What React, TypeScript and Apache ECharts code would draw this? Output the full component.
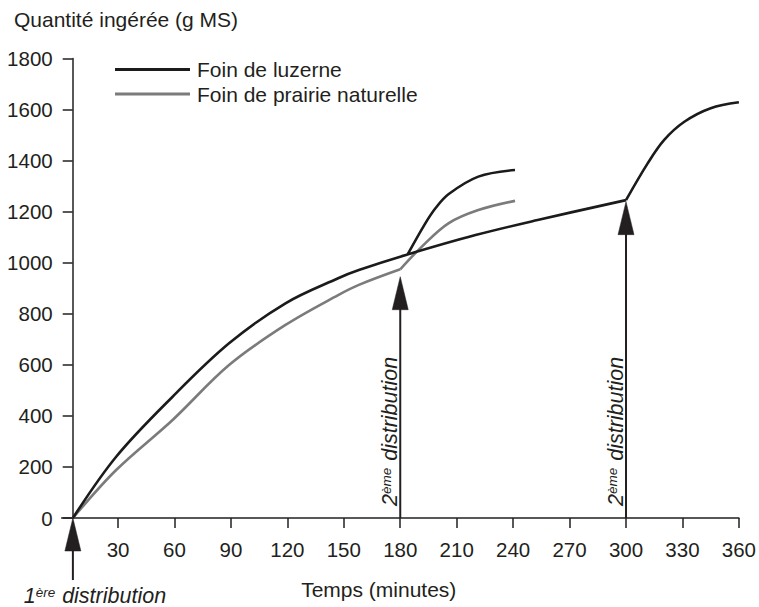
import React, { useEffect, useRef } from "react";
import * as echarts from "echarts";

// ---- data (minutes, g MS) ----
const luzerneMainT = [6, 29, 59, 89, 119, 147, 158, 183, 220, 253, 300];
const luzerneMainV = [0, 240, 475, 684, 841, 939, 971, 1030, 1108, 1167, 1245];
const luzerne2T = [184, 193, 198.6, 205.6, 221.5, 241];
const luzerne2V = [1033, 1150, 1212, 1268, 1337, 1363];
const luzerne3T = [300, 311.5, 320.3, 331, 345, 360];
const luzerne3V = [1245, 1389, 1481, 1552, 1605, 1628];
const prairieMainT = [6, 29, 59, 89, 119, 147, 158, 180];
const prairieMainV = [0, 188, 384, 599, 756, 873, 913, 974];
const prairie2T = [180, 191.5, 205.6, 221.5, 241];
const prairie2V = [974, 1063, 1154, 1206, 1242];

// distributions: time, arrow tip value, arrow tail value
const distT = [6, 180, 300];
const distTip = [0, 945, 1239];
const distTail = [-243, 0, 0];
const distOrd = ["1", "2", "2"];
const distSup = ["ère", "ème", "ème"];

const xTickValues = [30, 60, 90, 120, 150, 180, 210, 240, 270, 300, 330, 360];
const yMin = 0;
const yMax = 1800;
const yStep = 200;

const SERIES_LUZ = "Foin de luzerne";
const SERIES_PRA = "Foin de prairie naturelle";

const FONT = "'Liberation Sans', Arial, Helvetica, sans-serif";
const INK = "#231f20";
const BLACK = "#1c1a1b";
const GREY = "#7b7b7b";

const zip = (t: number[], v: number[]) => t.map((x, i) => [x, v[i]]);

export default function App() {
  const ref = useRef<HTMLDivElement>(null);

  useEffect(() => {
    if (!ref.current) return;
    const chart = echarts.init(ref.current, undefined, { renderer: "svg" });

    const lineSeries = (name: string, data: number[][], color: string, z: number) => ({
      name,
      type: "line",
      data,
      showSymbol: false,
      smooth: 0.35,
      z,
      lineStyle: { color, width: 2.6 },
      itemStyle: { color },
      emphasis: { disabled: true },
    });

    const option: any = {
      animation: false,
      textStyle: { fontFamily: FONT, color: INK },
      title: {
        text: "Quantité ingérée (g MS)",
        left: 14,
        top: 9,
        padding: 0,
        textStyle: { fontSize: 21, fontWeight: "normal", color: INK, fontFamily: FONT },
      },
      legend: {
        data: [SERIES_LUZ, SERIES_PRA],
        orient: "vertical",
        left: 110,
        top: 54,
        itemWidth: 75,
        itemHeight: 3,
        itemGap: 3.5,
        icon: "rect",
        selectedMode: false,
        textStyle: { fontSize: 21, color: INK, fontFamily: FONT, padding: [0, 0, 0, 2] },
      },
      grid: { left: 61.6, right: 17.3, top: 58.4, bottom: 89, containLabel: false },
      xAxis: {
        type: "value",
        min: 0,
        max: 360,
        interval: 30,
        name: "Temps (minutes)",
        nameLocation: "middle",
        nameGap: 61,
        nameTextStyle: { fontSize: 21, color: INK, fontFamily: FONT, padding: [0, 43, 0, 0] },
        axisLine: { show: true, onZero: false, lineStyle: { color: INK, width: 1.5 } },
        axisTick: {
          show: true,
          inside: false,
          length: 10,
          customValues: xTickValues,
          lineStyle: { color: INK, width: 1.5 },
        },
        axisLabel: {
          customValues: xTickValues,
          margin: 21,
          fontSize: 20.5,
          color: INK,
          fontFamily: FONT,
        },
        splitLine: { show: false },
      },
      yAxis: {
        type: "value",
        min: yMin,
        max: yMax,
        interval: yStep,
        offset: -11.1,
        axisLine: { show: true, onZero: false, lineStyle: { color: INK, width: 1.5 } },
        axisTick: { show: true, inside: false, length: 10, lineStyle: { color: INK, width: 1.5 } },
        axisLabel: {
          margin: 20,
          fontSize: 20.5,
          color: INK,
          fontFamily: FONT,
          formatter: (v: number) => String(v),
        },
        splitLine: { show: false },
      },
      series: [
        lineSeries(SERIES_PRA, zip(prairieMainT, prairieMainV), GREY, 2),
        lineSeries(SERIES_PRA, zip(prairie2T, prairie2V), GREY, 2),
        lineSeries(SERIES_LUZ, zip(luzerneMainT, luzerneMainV), BLACK, 3),
        lineSeries(SERIES_LUZ, zip(luzerne2T, luzerne2V), BLACK, 3),
        lineSeries(SERIES_LUZ, zip(luzerne3T, luzerne3V), BLACK, 3),
        {
          name: "distributions",
          type: "custom",
          clip: false,
          z: 5,
          silent: true,
          data: distT.map((t, i) => [t, distTip[i], distTail[i], i]),
          renderItem: (params: any, api: any) => {
            const t = api.value(0);
            const tip = api.coord([t, api.value(1)]);
            const tail = api.coord([t, api.value(2)]);
            const i = api.value(3);
            const headH = 33;
            const headW = 8;
            const rich = {
              n: {
                fontSize: 21.5,
                lineHeight: 22,
                fontStyle: "italic",
                fontFamily: FONT,
                fill: INK,
                color: INK,
              },
              s: {
                fontSize: 13.5,
                lineHeight: 22,
                fontStyle: "italic",
                fontFamily: FONT,
                fill: INK,
                color: INK,
                verticalAlign: "top",
                padding: [0, 1, 0, 0],
              },
            };
            const text = `{n|${distOrd[i]}}{s|${distSup[i]}}{n| distribution}`;
            const label =
              i === 0
                ? {
                    type: "text",
                    x: tip[0] + 22,
                    y: tail[1] + 16,
                    style: { text, rich, align: "center", verticalAlign: "middle", fill: INK },
                  }
                : {
                    type: "text",
                    x: tip[0] - 10,
                    y: 506,
                    rotation: Math.PI / 2,
                    style: { text, rich, align: "left", verticalAlign: "middle", fill: INK },
                  };
            return {
              type: "group",
              children: [
                {
                  type: "line",
                  shape: { x1: tip[0], y1: tip[1] + 20, x2: tail[0], y2: tail[1] },
                  style: { stroke: INK, lineWidth: 2 },
                },
                {
                  type: "polygon",
                  shape: {
                    points: [
                      [tip[0], tip[1]],
                      [tip[0] - headW, tip[1] + headH],
                      [tip[0] + headW, tip[1] + headH],
                    ],
                  },
                  style: { fill: INK, stroke: INK, lineWidth: 0.5 },
                },
                label,
              ],
            };
          },
        },
      ],
    };

    chart.setOption(option);
    return () => chart.dispose();
  }, []);

  return (
    <div
      ref={ref}
      style={{ position: "fixed", left: 0, top: 0, width: 759, height: 607, background: "#fff" }}
    />
  );
}
